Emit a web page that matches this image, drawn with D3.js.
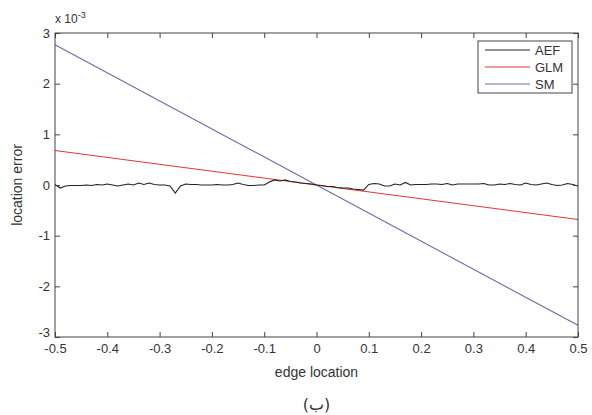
<!DOCTYPE html>
<html><head><meta charset="utf-8">
<script src="https://cdn.jsdelivr.net/npm/d3@7"></script>
<style>body{margin:0;background:#fff}svg{display:block}text{font-family:"Liberation Sans",Arial,sans-serif;fill:#333}</style>
</head><body>
<script>
const xTicks = [-0.5,-0.4,-0.3,-0.2,-0.1,0,0.1,0.2,0.3,0.4,0.5];
const yTicks = [-3,-2,-1,0,1,2,3];
const seriesNames = ["AEF","GLM","SM"];
const aefX = d3.range(101).map(i => +(-0.5 + i*0.01).toFixed(2));
const aefY = [0.01,-0.06,-0.02,-0.01,-0.01,-0.01,0.00,-0.01,0.01,0.00,
  0.02,0.00,-0.02,0.00,0.02,0.00,0.04,0.01,0.04,0.01,
  0.00,0.00,-0.02,-0.16,-0.02,0.02,0.01,0.01,0.00,0.00,
  0.00,0.01,0.00,0.00,0.01,0.04,0.01,-0.01,-0.01,0.00,
  0.00,0.06,0.10,0.08,0.10,0.07,0.06,0.04,0.03,0.02,
  0.00,-0.01,-0.03,-0.03,-0.05,-0.06,-0.06,-0.08,-0.09,-0.10,
  0.01,0.03,0.02,-0.02,-0.02,0.02,0.00,0.05,0.00,0.01,
  0.01,0.01,0.02,0.02,0.01,0.03,0.00,0.02,0.02,0.02,
  0.02,0.02,0.03,0.00,0.00,0.02,0.01,0.03,0.01,0.00,
  0.04,0.01,0.00,0.02,0.04,0.01,-0.01,0.00,0.03,0.01,-0.02];
const glmX = [-0.5,-0.25,0,0.25,0.5];
const glmY = [0.68,0.34,0,-0.34,-0.68];
const smX = [-0.5,0,0.5];
const smY = [2.77,0,-2.77];
const colors = ["#222222","#e0393b","#6b6ba8"];

const W=592,H=415, L=55,R=578,T=33,B=337;
const svg=d3.select("body").append("svg").attr("width",W).attr("height",H);
const x=d3.scaleLinear().domain([-0.5,0.5]).range([L,R]);
const y=d3.scaleLinear().domain([-3,3]).range([B,T]);

const line=d3.line().x(d=>x(d[0])).y(d=>y(d[1]));
const data=[aefX.map((v,i)=>[v,aefY[i]]), glmX.map((v,i)=>[v,glmY[i]]), smX.map((v,i)=>[v,smY[i]])];
[2,1,0].forEach(k=>{
  svg.append("path").attr("d",line(data[k])).attr("fill","none").attr("stroke",colors[k]).attr("stroke-width",1.1);
});

const ax="#444";
svg.append("rect").attr("x",L).attr("y",T).attr("width",R-L).attr("height",B-T).attr("fill","none").attr("stroke",ax).attr("stroke-width",1);
const tl=5;
const hy=s=>s.replace("\u2212","-");
const gx=svg.append("g").attr("transform",`translate(0,${B})`).call(d3.axisBottom(x).tickValues(xTicks).tickSizeInner(-tl).tickSizeOuter(0).tickPadding(7).tickFormat(d=>d===0?"0":hy(d3.format(".1f")(d))));
const gy=svg.append("g").attr("transform",`translate(${L},0)`).call(d3.axisLeft(y).tickValues(yTicks).tickSizeInner(-tl).tickSizeOuter(0).tickPadding(5).tickFormat(d=>hy(d3.format("d")(d))));
const gxt=svg.append("g").attr("transform",`translate(0,${T})`).call(d3.axisTop(x).tickValues(xTicks).tickSizeInner(-tl).tickSizeOuter(0).tickFormat(""));
const gyr=svg.append("g").attr("transform",`translate(${R},0)`).call(d3.axisRight(y).tickValues(yTicks).tickSizeInner(-tl).tickSizeOuter(0).tickFormat(""));
[gx,gy,gxt,gyr].forEach(g=>{g.select(".domain").remove();g.selectAll("line").attr("stroke",ax);g.selectAll("text").attr("fill","#333").style("font-size","13px").style("font-family","'Liberation Sans',Arial,sans-serif");});
gx.selectAll("text").attr("dy","0.71em");
gy.selectAll(".tick").filter(d=>d===-3).select("text").attr("dy","-0.05em");

const ex=svg.append("text").attr("x",L).attr("y",T-10).style("font-size","12px");
ex.append("tspan").text("x 10");
ex.append("tspan").attr("dy",-5).style("font-size","9px").text("-3");

svg.append("text").attr("x",(L+R)/2).attr("y",377).attr("text-anchor","middle").style("font-size","14px").text("edge location");
svg.append("text").attr("transform",`translate(22,${(T+B)/2}) rotate(-90)`).attr("text-anchor","middle").style("font-size","14px").text("location error");
svg.append("text").attr("x",(L+R)/2).attr("y",410).attr("text-anchor","middle").style("font-size","16px").style("font-family","'DejaVu Sans',sans-serif").text("(ب)");

const lg=svg.append("g");
const lx=478, ly=41, lw=94, lh=52;
lg.append("rect").attr("x",lx).attr("y",ly).attr("width",lw).attr("height",lh).attr("fill","#fff").attr("stroke",ax);
seriesNames.forEach((n,i)=>{
  const yy=ly+9+i*17;
  lg.append("line").attr("x1",lx+7).attr("x2",lx+52).attr("y1",yy).attr("y2",yy).attr("stroke",colors[i]).attr("stroke-width",1.1);
  lg.append("text").attr("x",lx+57).attr("y",yy).attr("dy","0.35em").style("font-size","13px").text(n);
});
</script>
</body></html>
